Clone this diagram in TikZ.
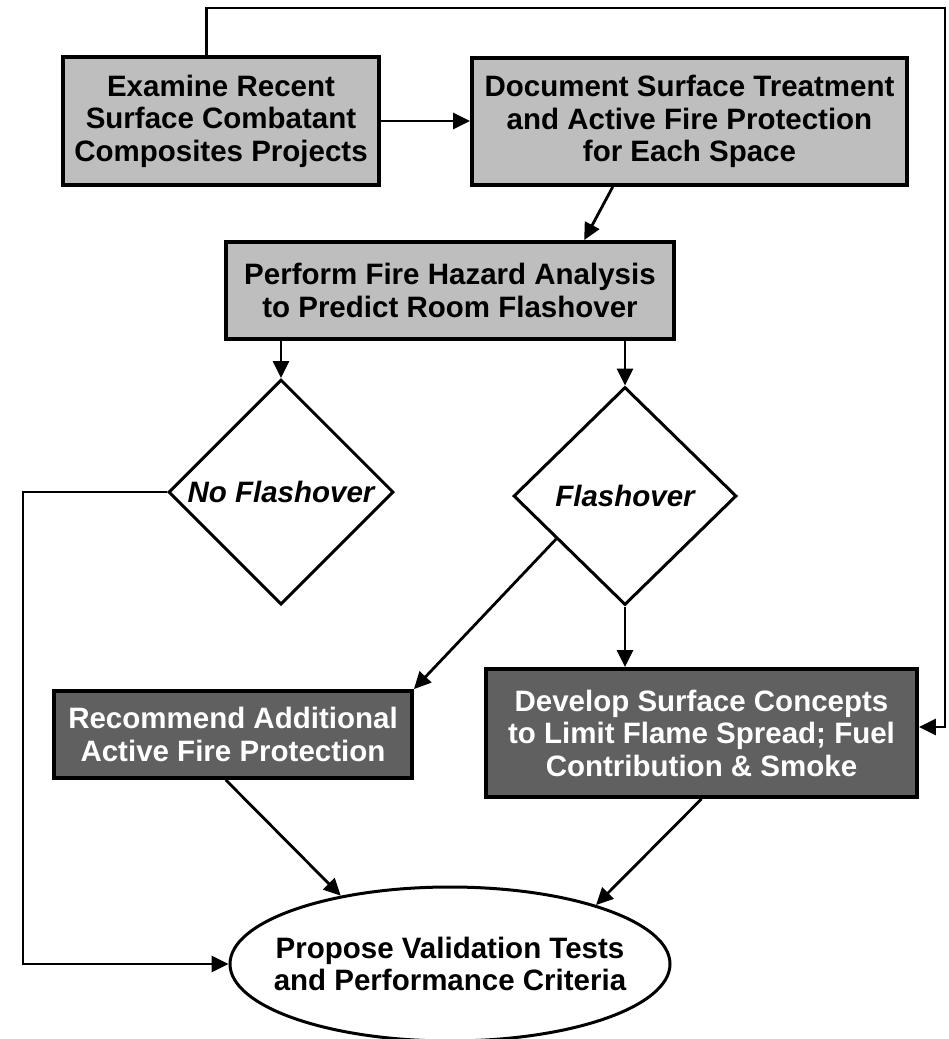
\documentclass[tikz,border=0pt]{standalone}
\usepackage{fontspec}
\setmainfont{Liberation Sans}
\usetikzlibrary{shapes.geometric,arrows.meta,calc}

\definecolor{boxlight}{RGB}{190,190,190}
\definecolor{boxdark}{RGB}{96,96,96}

\begin{document}
\begin{tikzpicture}[x=1pt,y=-1pt,
  every node/.style={font=\fontsize{29.5}{32.5}\selectfont\bfseries, align=center, inner sep=0pt},
  lightbox/.style={rectangle, draw=black, line width=3.8pt, fill=boxlight, text=black},
  darkbox/.style={rectangle, draw=black, line width=3.8pt, fill=boxdark, text=white},
  decision/.style={diamond, draw=black, line width=3pt, fill=white,
    font=\fontsize{29.5}{32.5}\selectfont\bfseries\itshape},
  terminal/.style={ellipse, draw=black, line width=3pt, fill=white},
  flow/.style={line width=2.8pt, line join=miter, -{Triangle[length=17pt,width=16pt]}},
]
\useasboundingbox (0,0) rectangle (949,1039);

% process boxes
\node[lightbox, minimum width=316pt, minimum height=128pt] (ex) at (221,121)
  {Examine Recent\\Surface Combatant\\Composites Projects};
\node[lightbox, minimum width=435pt, minimum height=127pt] (doc) at (689.5,121.5)
  {Document Surface Treatment\\and Active Fire Protection\\for Each Space};
\node[lightbox, minimum width=448pt, minimum height=97pt] (perf) at (450,290.5)
  {Perform Fire Hazard Analysis\\to Predict Room Flashover};

% decisions
\node[decision, minimum width=225pt, minimum height=225pt] (d1) at (281,492) {No Flashover};
\node[decision, minimum width=223pt, minimum height=218pt] (d2) at (625,496) {Flashover};

% outcome boxes
\node[darkbox, minimum width=358pt, minimum height=87pt] (rec) at (233,734.5)
  {Recommend Additional\\Active Fire Protection};
\node[darkbox, minimum width=431pt, minimum height=128pt] (dev) at (701.5,733)
  {Develop Surface Concepts\\to Limit Flame Spread; Fuel\\Contribution \& Smoke};

% final step: fixed-size ellipse, its text set on top
\node[terminal, minimum width=440pt, minimum height=154pt] (ell) at (450,964) {};
\node (elltext) at (ell.center) {Propose Validation Tests\\and Performance Criteria};

% routing corners
\coordinate (tr) at (945,8);
\coordinate (lc) at (23,492);

% connectors
\draw[flow] (ex.east) -- (ex.east -| doc.west);
\draw[flow] ($(doc.south west)!0.325!(doc.south east)$) -- ($(perf.north west)!0.797!(perf.north east)$);
\draw[flow] (perf.south -| d1.north) -- (d1.north);
\draw[flow] (perf.south -| d2.north) -- (d2.north);
\draw[flow] ($(d2.west)!0.39!(d2.south)$) -- (rec.north east);
\draw[flow] (d2.south) -- (d2.south |- dev.north);
\draw[flow] ($(ex.north west)!0.455!(ex.north east)$) |- (tr) |- ($(dev.east)+(0,-6)$);
\draw[flow] (d1.west) -- (lc) |- (ell.west);
\draw[flow] ($(rec.south west)!0.48!(rec.south east)$) -- (ell.148);
\draw[flow] (dev.south) -- (ell.22);
\end{tikzpicture}
\end{document}
